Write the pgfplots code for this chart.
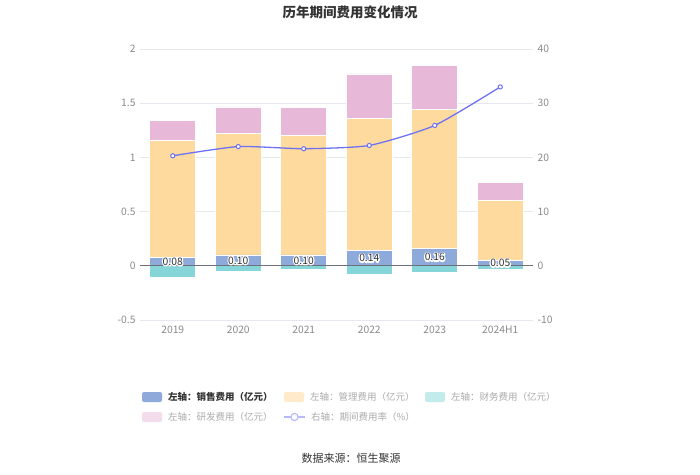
\documentclass[border=0pt]{standalone}
\usepackage{pgfplots}
\pgfplotsset{compat=1.18}
\usepackage{fontspec}
\setmainfont{Noto Sans CJK SC}
\definecolor{cSales}{HTML}{8EAADB}
\definecolor{cMgmt}{HTML}{FFDA9E}
\definecolor{cFin}{HTML}{86D5D8}
\definecolor{cRD}{HTML}{E8B8D9}
\definecolor{cLine}{HTML}{6E72F2}
\definecolor{cGrid}{HTML}{E6E8F0}
\definecolor{cTick}{HTML}{8A8A8A}
\definecolor{cAxis}{HTML}{6E7079}
\definecolor{cTxt}{HTML}{333333}
\definecolor{cLeg}{HTML}{AAAAAA}
\definecolor{fMgmt}{HTML}{FFEBCB}
\definecolor{fFin}{HTML}{C4EBEC}
\definecolor{fRD}{HTML}{F3DDEC}
\definecolor{fLine}{HTML}{B7B9F8}
\newcommand{\halo}[1]{\rlap{\special{pdf:literal direct q 1 Tr 2.6 w 1 1 1 RG 1 J 1 j}#1\special{pdf:literal direct Q}}#1}
\pgfplotsset{
  common/.style={
    at={(140pt,154pt)}, anchor=south west, scale only axis,
    width=393pt, height=271pt, xmin=-0.5, xmax=5.5,
    /pgf/number format/assume math mode=true,
    tick label style={font=\fontsize{10.3}{12}\selectfont, text=cTick},
    major tick length=0pt,
  }
}
\begin{document}
\begin{tikzpicture}[x=1pt,y=1pt]
\path[use as bounding box] (0,0) rectangle (700,474);
% left axis with stacked bars
\begin{axis}[common,
  ymin=-0.5, ymax=2,
  ybar stacked, bar width=46pt,
  axis line style={draw=none},
  ytick={-0.5,0,0.5,1,1.5,2},
  yticklabels={-0.5,0,0.5,1,1.5,2},
  ymajorgrids, grid style={cGrid, line width=0.6pt},
  xtick={0,1,2,3,4,5},
  xticklabels={2019,2020,2021,2022,2023,2024H1},
  xticklabel style={yshift=-2pt},
  yticklabel style={xshift=-1pt},
]
\addplot[fill=cSales, draw=white, line width=0.6pt] coordinates {(0,0.08) (1,0.10) (2,0.10) (3,0.14) (4,0.16) (5,0.05)};
\addplot[fill=cMgmt, draw=white, line width=0.6pt] coordinates {(0,1.08) (1,1.125) (2,1.10) (3,1.22) (4,1.28) (5,0.55)};
\addplot[fill=cRD, draw=white, line width=0.6pt] coordinates {(0,0.18) (1,0.24) (2,0.26) (3,0.41) (4,0.41) (5,0.17)};
\end{axis}
% overlay axis: finance bars, zero line, labels
\begin{axis}[common, ymin=-0.5, ymax=2, hide axis]
\addplot[ybar, bar width=46pt, fill=cFin, draw=white, line width=0.6pt] coordinates {(0,-0.11) (1,-0.05) (2,-0.03) (3,-0.08) (4,-0.06) (5,-0.03)};
\addplot[cAxis, line width=0.7pt, mark=none] coordinates {(-0.5,0) (5.5,0)};
\addplot[draw=none, mark=none, nodes near coords, point meta=explicit symbolic,
  nodes near coords={\halo{\pgfplotspointmeta}},
  every node near coord/.style={anchor=center, font=\fontsize{10.3}{12}\selectfont, text=cTxt}]
  coordinates {(0,0.04)[0.08] (1,0.05)[0.10] (2,0.05)[0.10] (3,0.07)[0.14] (4,0.08)[0.16] (5,0.025)[0.05]};
\end{axis}
% right axis with line
\begin{axis}[common,
  ymin=-10, ymax=40,
  axis y line*=right, axis x line=none,
  axis line style={draw=none},
  ytick={-10,0,10,20,30,40},
  yticklabels={-10,0,10,20,30,40},
  yticklabel style={xshift=1pt},
]
\addplot[cLine, line width=1.3pt, smooth, tension=0.35, mark=*, mark size=2.1pt,
  mark options={fill=white, draw=cLine, line width=1pt, solid}]
  coordinates {(0,20.3) (1,22.0) (2,21.6) (3,22.2) (4,25.9) (5,33.0)};
\end{axis}
% title
\node[font=\fontsize{13.5}{15}\selectfont\bfseries, text=cTxt] at (350,462) {历年期间费用变化情况};
% legend row 1
\fill[cSales, rounded corners=2pt] (142,72) rectangle (162,82);
\node[anchor=west, font=\fontsize{9.5}{11}\selectfont\bfseries, text=cTxt, inner sep=0pt] at (168,77) {左轴：销售费用（亿元）};
\fill[fMgmt, rounded corners=2pt] (284,72) rectangle (304,82);
\node[anchor=west, font=\fontsize{9.5}{11}\selectfont, text=cLeg, inner sep=0pt] at (310,77) {左轴：管理费用（亿元）};
\fill[fFin, rounded corners=2pt] (425,72) rectangle (445,82);
\node[anchor=west, font=\fontsize{9.5}{11}\selectfont, text=cLeg, inner sep=0pt] at (451,77) {左轴：财务费用（亿元）};
% legend row 2
\fill[fRD, rounded corners=2pt] (142,52) rectangle (162,62);
\node[anchor=west, font=\fontsize{9.5}{11}\selectfont, text=cLeg, inner sep=0pt] at (168,57) {左轴：研发费用（亿元）};
\draw[fLine, line width=1.3pt] (284,57) -- (305,57);
\draw[fLine, line width=1.1pt, fill=white] (294.5,57) circle (3.6);
\node[anchor=west, font=\fontsize{9.5}{11}\selectfont, text=cLeg, inner sep=0pt] at (311,57) {右轴：期间费用率（\%）};
% source
\node[font=\fontsize{11}{13}\selectfont, text=cTxt] at (351,16) {数据来源：恒生聚源};
\end{tikzpicture}
\end{document}
